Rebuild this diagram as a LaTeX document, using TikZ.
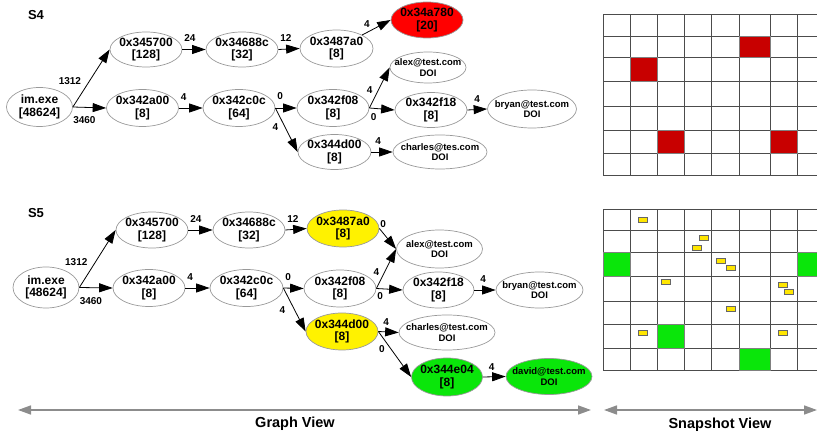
\documentclass[tikz,border=0pt]{standalone}
\usepackage{fontspec}
\setmainfont{Liberation Sans}
\usepackage{xcolor}
\usepackage{tikz}
\usetikzlibrary{shapes.geometric,arrows.meta,positioning}
\definecolor{cellred}{RGB}{200,0,0}
\definecolor{hotgreen}{RGB}{10,230,10}
\definecolor{chunkyellow}{RGB}{255,230,0}
\tikzset{
  addr/.style={ellipse, draw=gray!80, line width=0.7pt, inner xsep=-20pt, inner ysep=0pt,
    minimum width=72pt, minimum height=37pt, align=center,
    font=\bfseries\fontsize{12}{12.5}\selectfont},
  mail/.style={addr, font=\bfseries\fontsize{9.5}{10.5}\selectfont},
  link/.style={-{Triangle[length=13.5pt,width=9pt]}, line width=0.8pt},
  lab/.style={font=\bfseries\fontsize{10}{10}\selectfont, inner sep=0pt},
  tlab/.style={lab, pos=0, anchor=south west, shift={(1.5pt,7.5pt)}},
  blab/.style={lab, pos=0, anchor=north west, shift={(0pt,-9.5pt)}},
  setlab/.style={font=\bfseries\fontsize{13}{13}\selectfont, inner sep=0pt},
  viewlab/.style={font=\bfseries\fontsize{14.5}{14.5}\selectfont, inner sep=0pt},
  gridln/.style={black!70, line width=0.9pt},
  chunk/.style={fill=chunkyellow, draw=black!60, line width=0.5pt},
  span/.style={gray!90, line width=1.6pt, {Triangle[length=13pt,width=9pt]}-{Triangle[length=13pt,width=9pt]}}
}

\begin{document}
\begin{tikzpicture}[x=1pt,y=-1pt]
\useasboundingbox (0,0) rectangle (817,435);

% S4 graph
\node[setlab] (s4) at (36,15) {S4};
\node[addr, minimum width=66pt, minimum height=39pt] (im4) at (39.5,107) {im.exe\\{[48624]}};
\node[addr, minimum height=35pt] (a1) at (146,49.5) {0x345700\\{[128]}};
\node[addr, minimum height=35pt] (a2) at (242,49.5) {0x34688c\\{[32]}};
\node[addr, minimum width=73pt] (a3) at (336.5,48.5) {0x3487a0\\{[8]}};
\node[addr, fill=red, minimum height=36pt] (a4) at (427,20) {0x34a780\\{[20]}};
\node[addr] (b1) at (142.5,108) {0x342a00\\{[8]}};
\node[addr] (b2) at (239,108) {0x342c0c\\{[64]}};
\node[addr] (b3) at (333,108) {0x342f08\\{[8]}};
\node[addr, minimum height=35pt] (b4) at (431,110) {0x342f18\\{[8]}};
\node[mail, minimum width=89pt, minimum height=38pt] (bryan4) at (532,109) {bryan@test.com\\DOI};
\node[mail, minimum width=76pt, minimum height=31pt] (alex4) at (428,67.5) {alex@test.com\\DOI};
\node[addr, minimum width=73pt, minimum height=35pt] (c1) at (334.5,152) {0x344d00\\{[8]}};
\node[mail, minimum width=94pt, minimum height=34pt] (charles4) at (440,152) {charles@tes.com\\DOI};

\draw[link] (im4.east) -- node[lab, pos=.45, left=8pt] {1312} (a1.west);
\draw[link] (im4.east) -- node[blab] {3460} (b1.west);
\draw[link] (a1.east) -- node[tlab] {24} (a2.west);
\draw[link] (b1.east) -- node[tlab] {4} (b2.west);
\draw[link] (a2.east) -- node[tlab] {12} (a3.west);
\draw[link] (b2.east) -- node[tlab] {0} (b3.west);
\draw[link] (b2.east) -- node[lab, pos=0, anchor=north, shift={(0pt,-15pt)}] {4} (c1.west);
\draw[link] (a3) -- node[tlab] {4} (a4.west);
\draw[link] (b3.east) -- node[lab, pos=.44, left=5.5pt] {4} (alex4.west);
\draw[link] (b3.east) -- node[lab, pos=0, anchor=north west, shift={(1pt,-5.5pt)}] {0} (b4.west);
\draw[link] (b4.east) -- node[tlab, xshift=5pt] {4} (bryan4.west);
\draw[link] (c1.east) -- node[tlab, xshift=2pt] {4} (charles4.west);

% S5 graph
\node[setlab] (s5) at (36,213) {S5};
\node[addr, minimum width=66pt, minimum height=41pt] (im5) at (46,287.5) {im.exe\\{[48624]}};
\node[addr, minimum height=36pt] (p1) at (152,230) {0x345700\\{[128]}};
\node[addr, minimum height=36pt] (p2) at (249,230) {0x34688c\\{[32]}};
\node[addr, fill=yellow] (p3) at (343,228.5) {0x3487a0\\{[8]}};
\node[addr] (q1) at (149,288) {0x342a00\\{[8]}};
\node[addr, minimum width=73pt] (q2) at (246.5,288) {0x342c0c\\{[64]}};
\node[addr] (q3) at (340,288.5) {0x342f08\\{[8]}};
\node[addr, minimum width=71pt, minimum height=36pt] (q4) at (438.5,290) {0x342f18\\{[8]}};
\node[mail, minimum width=87pt, minimum height=36pt] (bryan5) at (539.5,290) {bryan@test.com\\DOI};
\node[mail, minimum width=86pt, minimum height=38pt] (alex5) at (439.5,249) {alex@test.com\\DOI};
\node[addr, fill=yellow] (r1) at (342,331.5) {0x344d00\\{[8]}};
\node[mail, minimum width=96pt, minimum height=35pt] (charles5) at (447,332.5) {charles@test.com\\DOI};
\node[addr, fill=hotgreen, minimum width=71pt, minimum height=38pt] (s1) at (447,377) {0x344e04\\{[8]}};
\node[mail, fill=hotgreen, minimum width=86pt, minimum height=36pt] (david) at (549,376.5) {david@test.com\\DOI};

\draw[link] (im5.east) -- node[lab, pos=.44, left=7.5pt] {1312} (p1.west);
\draw[link] (im5.east) -- node[blab] {3460} (q1.west);
\draw[link] (p1.east) -- node[tlab] {24} (p2.west);
\draw[link] (q1.east) -- node[tlab] {4} (q2.west);
\draw[link] (p2.east) -- node[tlab] {12} (p3.west);
\draw[link] (q2.east) -- node[tlab] {0} (q3.west);
\draw[link] (q2.east) -- node[lab, pos=0, anchor=north, shift={(-1pt,-18pt)}] {4} (r1.west);
\draw[link] (p3.east) -- node[lab, pos=0, anchor=south west, shift={(0.5pt,0pt)}] {0} (alex5.west);
\draw[link] (q3.east) -- node[lab, pos=.42, left=5pt] {4} (alex5.west);
\draw[link] (q3.east) -- node[lab, pos=0, anchor=north west, shift={(0.5pt,-4pt)}] {0} (q4.west);
\draw[link] (q4.east) -- node[tlab, xshift=4pt] {4} (bryan5.west);
\draw[link] (r1.east) -- node[tlab, xshift=3pt, yshift=-1.5pt] {4} (charles5.west);
\draw[link] (r1.east) -- node[lab, pos=.385, left=6pt] {0} (s1.west);
\draw[link] (s1.east) -- node[tlab, xshift=4pt, yshift=-1.5pt] {4} (david.west);

% snapshot grids
\foreach \xa/\ya/\xb/\yb in {739.3/36/770/57.7, 630/57.7/657.3/81.7,
    657.3/130/684.3/153.3, 770/130/797.3/153.3}
  \fill[cellred] (\xa,\ya) rectangle (\xb,\yb);
\foreach \xa/\ya/\xb/\yb in {603.3/252.3/630/276.7, 797.3/252.3/824/276.7,
    657.3/324.3/684.3/348.3, 739.3/348.3/770/370}
  \fill[hotgreen] (\xa,\ya) rectangle (\xb,\yb);
\foreach \x in {603.3,630,657.3,684.3,711.7,739.3,770,797.3} {
  \draw[gridln] (\x,14.3) -- (\x,175);
  \draw[gridln] (\x,209.3) -- (\x,370);
}
\foreach \y in {14.3,36,57.7,81.7,106,130,153.3,175,
    209.3,230,252.3,276.7,301,324.3,348.3,370}
  \draw[gridln] (603.3,\y) -- (824,\y);
\foreach \xa/\ya/\xb/\yb in {739.3/36/770/57.7, 630/57.7/657.3/81.7,
    657.3/130/684.3/153.3, 770/130/797.3/153.3}
  \draw[gray, line width=0.8pt] (\xa,\ya) rectangle (\xb,\yb);
\foreach \xa/\ya/\xb/\yb in {603.3/252.3/630/276.7, 797.3/252.3/824/276.7,
    657.3/324.3/684.3/348.3, 739.3/348.3/770/370}
  \draw[gray, line width=0.8pt] (\xa,\ya) rectangle (\xb,\yb);
\foreach \x/\y in {642.3/220, 703.3/237.3, 696.7/247.3, 720.7/261, 730.7/267.7,
    666/281.3, 782.3/285, 789/292, 730.7/309, 642.3/332.3, 782.3/332.3}
  \draw[chunk] (\x-4.5,\y-2.5) rectangle +(9,5);

% view captions
\coordinate (gl) at (18,410);
\coordinate (gr) at (591,410);
\coordinate (sl) at (604,410);
\coordinate (sr) at (817,410);
\draw[span] (gl) -- (gr);
\draw[span] (sl) -- (sr);
\node[viewlab] (gview) at (295,424) {Graph View};
\node[viewlab] (sview) at (720,425) {Snapshot View};
\end{tikzpicture}
\end{document}
